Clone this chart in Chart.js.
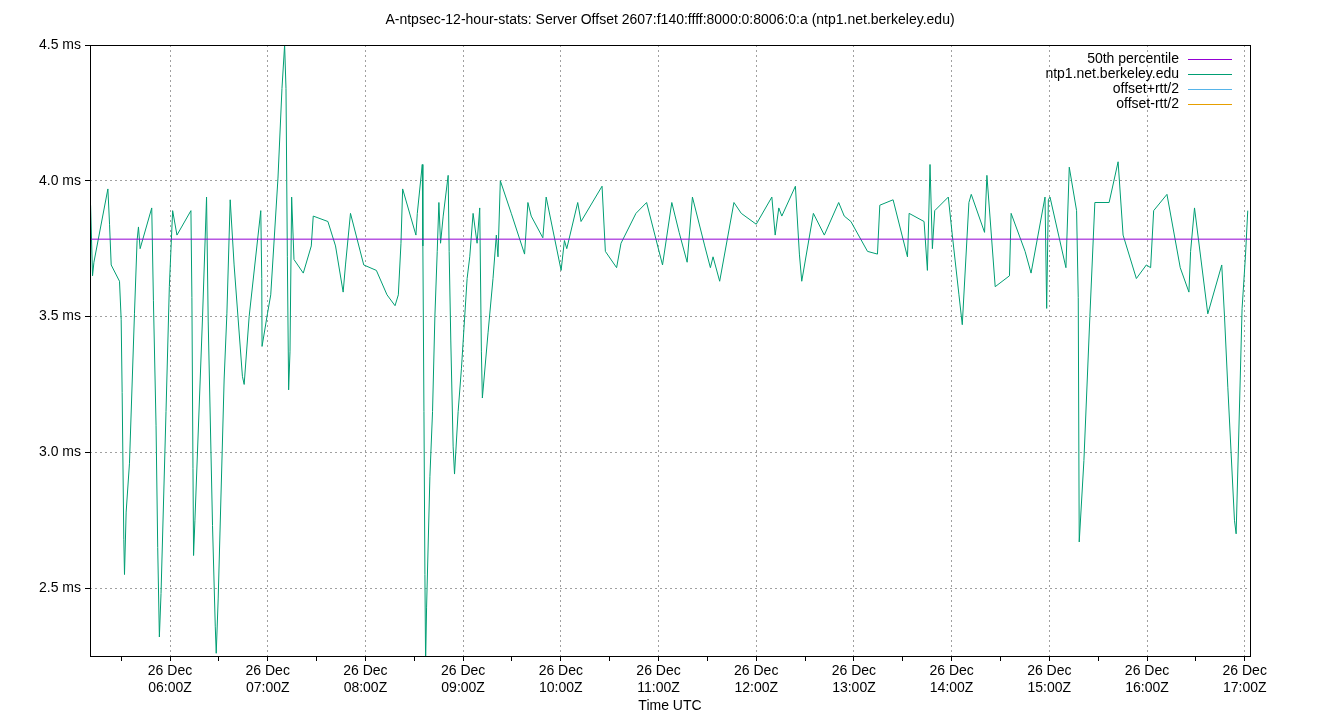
<!DOCTYPE html>
<html>
<head>
<meta charset="utf-8">
<script src="https://cdn.jsdelivr.net/npm/chart.js@4"></script>
<style>
  body { margin: 0; background: #fff; }
  #wrap { width: 1340px; height: 720px; }
</style>
</head>
<body>
<div id="wrap"><canvas id="offsetChart" width="1340" height="720"></canvas></div>
<script>
// sample times (hours UTC, 26 Dec) and offsets in ms
const times = [5.187, 5.207, 5.221, 5.364, 5.381, 5.398, 5.483, 5.500, 5.510, 5.527, 5.534, 5.551, 5.585, 5.636, 5.663, 5.677, 5.694, 5.813, 5.830, 5.857, 5.874, 5.891, 5.908, 5.959, 5.993, 6.027, 6.071, 6.214, 6.224, 6.235, 6.241, 6.255, 6.333, 6.374, 6.391, 6.435, 6.463, 6.473, 6.493, 6.554, 6.582, 6.616, 6.656, 6.741, 6.759, 6.810, 6.929, 6.939, 6.942, 6.997, 7.031, 7.105, 7.146, 7.173, 7.187, 7.201, 7.214, 7.228, 7.245, 7.269, 7.364, 7.446, 7.466, 7.616, 7.694, 7.772, 7.796, 7.847, 7.983, 8.112, 8.221,
  8.303, 8.337, 8.364, 8.381, 8.517, 8.531, 8.565, 8.582, 8.588, 8.599, 8.609, 8.616, 8.626, 8.660, 8.687, 8.711, 8.735, 8.752, 8.769, 8.796, 8.847, 8.857, 8.874, 8.898, 8.912, 8.949, 8.983, 9.041, 9.068, 9.102, 9.143, 9.170, 9.187, 9.197, 9.255, 9.306, 9.340, 9.357, 9.381, 9.493, 9.629, 9.663, 9.697, 9.816, 9.850, 10.003, 10.037, 10.061, 10.173, 10.207, 10.422, 10.456, 10.571, 10.616, 10.769, 10.878, 11.041, 11.136, 11.211,
  11.293, 11.347, 11.473, 11.531, 11.558, 11.626, 11.772, 11.847, 12.000, 12.160, 12.194, 12.231, 12.262, 12.401, 12.442, 12.466, 12.585, 12.697, 12.844, 12.901, 12.969, 13.139, 13.241, 13.265, 13.401, 13.548, 13.565, 13.718, 13.752, 13.779, 13.803, 13.827, 13.966, 14.007, 14.075, 14.109, 14.177,
  14.201, 14.337, 14.361, 14.446, 14.592, 14.609, 14.752, 14.813, 14.956, 14.973, 14.990, 15.007, 15.170, 15.204, 15.279, 15.296, 15.306, 15.354, 15.415, 15.466, 15.612, 15.704, 15.755, 15.891, 15.993, 16.037, 16.068, 16.204, 16.340, 16.429, 16.446, 16.486, 16.622, 16.765, 16.793, 16.827, 16.895, 16.912, 16.973, 17.007, 17.031];
const offsets = [3.91, 3.65, 3.70, 3.97, 3.84, 3.69, 3.63, 3.49, 3.22, 2.68, 2.55, 2.78, 2.96, 3.51, 3.78, 3.83, 3.75, 3.90, 3.56, 3.10, 2.65, 2.32, 2.48, 3.15, 3.61, 3.89, 3.80, 3.89, 3.57, 2.94, 2.62, 2.75, 3.50, 3.94, 3.48, 2.73, 2.36, 2.26, 2.46, 3.27, 3.51, 3.93, 3.69, 3.28, 3.25, 3.50, 3.89, 3.64, 3.39, 3.51, 3.58, 4.01, 4.34, 4.50, 4.34, 3.72, 3.23, 3.37, 3.94, 3.71, 3.66, 3.76, 3.87, 3.85, 3.76, 3.59, 3.69, 3.88, 3.69, 3.67, 3.58,
  3.54, 3.58, 3.77, 3.97, 3.80, 3.88, 4.00, 4.06, 3.76, 3.15, 2.55, 2.22, 2.43, 2.91, 3.15, 3.50, 3.74, 3.92, 3.77, 3.87, 4.02, 3.74, 3.41, 3.02, 2.92, 3.15, 3.31, 3.64, 3.72, 3.88, 3.77, 3.90, 3.37, 3.20, 3.44, 3.64, 3.80, 3.72, 4.00, 3.88, 3.73, 3.92, 3.87, 3.79, 3.94, 3.67, 3.78, 3.75, 3.92, 3.85, 3.98, 3.74, 3.68, 3.77, 3.88, 3.92, 3.69, 3.92, 3.81,
  3.70, 3.94, 3.76, 3.68, 3.72, 3.63, 3.92, 3.88, 3.84, 3.94, 3.80, 3.90, 3.87, 3.98, 3.73, 3.63, 3.88, 3.80, 3.92, 3.87, 3.85, 3.74, 3.73, 3.91, 3.93, 3.72, 3.88, 3.85, 3.67, 4.06, 3.75, 3.89, 3.94, 3.80, 3.58, 3.47, 3.92,
  3.95, 3.81, 4.02, 3.61, 3.65, 3.88, 3.74, 3.66, 3.94, 3.53, 3.93, 3.94, 3.68, 4.05, 3.89, 3.57, 2.67, 2.97, 3.50, 3.92, 3.92, 4.07, 3.80, 3.64, 3.69, 3.68, 3.89, 3.95, 3.68, 3.59, 3.74, 3.90, 3.51, 3.69, 3.50, 3.24, 2.75, 2.70, 3.53, 3.72, 3.89];
const median = 3.785;
const xMin = 5.181, xMax = 17.054;
const yTicks = [2.5, 3.0, 3.5, 4.0, 4.5];
const legendNames = ['50th percentile', 'ntp1.net.berkeley.edu', 'offset+rtt/2', 'offset-rtt/2'];
const legendColors = ['#9400d3', '#009e73', '#56b4e9', '#e69f00'];

const FONT = '"Liberation Sans", Arial, sans-serif';

function hourLabel(h) {
    const hh = String(Math.floor(h)).padStart(2, '0');
    return ['26 Dec', hh + ':00Z'];
}

// frame, title, axis title and legend drawn like gnuplot does
const gnuplotDecor = {
    id: 'gnuplotDecor',
    afterDraw(chart) {
        const ctx = chart.ctx;
        const a = chart.chartArea;
        ctx.save();
        ctx.strokeStyle = '#000';
        ctx.lineWidth = 1;
        ctx.strokeRect(a.left + 0.5, a.top + 0.5, a.right - a.left, a.bottom - a.top);
        ctx.fillStyle = '#000';
        ctx.font = '14px ' + FONT;
        ctx.textAlign = 'center';
        ctx.textBaseline = 'middle';
        ctx.fillText('A-ntpsec-12-hour-stats: Server Offset 2607:f140:ffff:8000:0:8006:0:a (ntp1.net.berkeley.edu)', 670, 20);
        ctx.fillText('Time UTC', (a.left + a.right) / 2, 706);
        ctx.textAlign = 'right';
        legendNames.forEach((name, i) => {
            const y = 59 + i * 15;
            ctx.fillStyle = '#000';
            ctx.fillText(name, 1179, y);
            ctx.strokeStyle = legendColors[i];
            ctx.beginPath();
            ctx.moveTo(1188, y + 0.5);
            ctx.lineTo(1232, y + 0.5);
            ctx.stroke();
        });
        ctx.restore();
    }
};

const offsetCtx = document.getElementById('offsetChart').getContext('2d');
new Chart(offsetCtx, {
    type: 'line',
    data: {
        datasets: [{
            label: legendNames[0],
            data: [{ x: xMin, y: median }, { x: xMax, y: median }],
            borderColor: legendColors[0],
            borderWidth: 1,
            pointRadius: 0
        }, {
            label: legendNames[1],
            data: times.map((t, i) => ({ x: t, y: offsets[i] })),
            borderColor: legendColors[1],
            borderWidth: 1,
            pointRadius: 0,
            tension: 0
        }]
    },
    options: {
        responsive: false,
        animation: false,
        layout: { padding: { top: 45, right: 90, left: 0, bottom: 0 } },
        plugins: { legend: { display: false }, tooltip: { enabled: false } },
        scales: {
            x: {
                type: 'linear',
                min: xMin,
                max: xMax,
                afterBuildTicks: axis => {
                    const t = [];
                    for (let h = 5.5; h <= 17; h += 0.5) t.push({ value: h });
                    axis.ticks = t;
                },
                afterFit: axis => { axis.height = 64; },
                grid: {
                    color: c => (c.tick && Number.isInteger(c.tick.value)) ? '#a0a0a0' : 'rgba(0,0,0,0)',
                    tickColor: '#000',
                    tickLength: 5
                },
                border: { display: false, dash: [2, 3] },
                ticks: {
                    autoSkip: false,
                    maxRotation: 0,
                    color: '#000',
                    font: { family: FONT, size: 14 },
                    padding: 2,
                    callback: v => Number.isInteger(v) ? hourLabel(v) : ''
                }
            },
            y: {
                min: 2.25,
                max: 4.5,
                afterBuildTicks: axis => { axis.ticks = yTicks.map(v => ({ value: v })); },
                afterFit: axis => { axis.width = 90; },
                grid: { color: '#a0a0a0', tickColor: '#000', tickLength: 5 },
                border: { display: false, dash: [2, 3] },
                ticks: {
                    color: '#000',
                    font: { family: FONT, size: 14 },
                    padding: 4,
                    callback: v => v.toFixed(1) + ' ms'
                }
            }
        }
    },
    plugins: [gnuplotDecor]
});
</script>
</body>
</html>
